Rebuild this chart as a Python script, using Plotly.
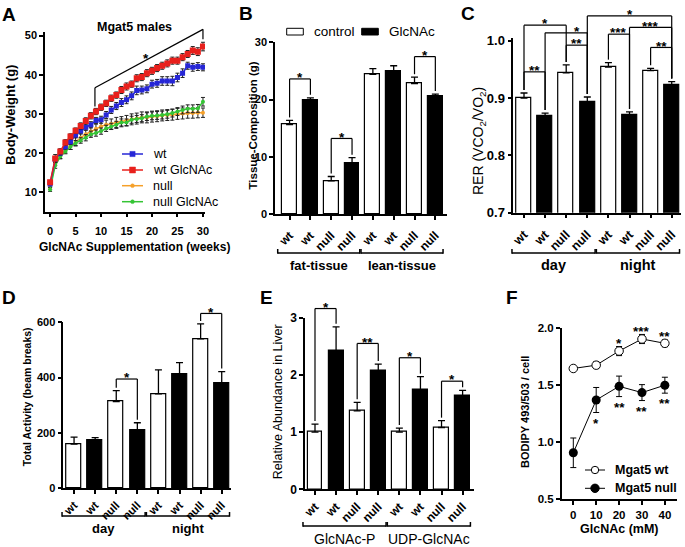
import plotly.graph_objects as go

W, H = 685, 547
FONT = "Liberation Sans, Arial, sans-serif"

# ---------------- data ----------------
weeks = list(range(31))
series_names = ["wt", "wt GlcNAc", "null", "null GlcNAc"]
bw_wt = [12.1, 18.4, 20.0, 21.6, 22.9, 24.6, 25.6, 26.6, 27.2, 28.3, 28.5, 29.7, 31.0, 32.0, 32.9, 33.6,
         34.6, 36.0, 36.1, 36.4, 37.6, 37.8, 38.4, 38.4, 38.4, 39.3, 40.4, 42.3, 41.9, 42.1, 41.9]
bw_wt_err = [0.5, 0.7, 0.6, 0.6, 0.7, 0.7, 0.7, 0.8, 0.8, 0.8, 0.9, 0.9, 0.9, 0.9, 1.0, 1.0,
             1.0, 1.1, 1.0, 1.0, 1.0, 1.0, 1.1, 1.1, 1.2, 1.1, 1.1, 0.9, 1.0, 1.0, 0.9]
bw_wt_glc = [12.5, 18.6, 20.4, 22.7, 24.2, 25.7, 26.9, 28.2, 29.5, 30.6, 31.7, 32.7, 34.0, 34.8, 36.1, 37.0,
             37.6, 39.1, 39.4, 40.4, 41.0, 41.7, 42.3, 42.9, 43.6, 43.6, 44.5, 45.3, 46.2, 45.9, 47.2]
bw_wt_glc_err = [0.5, 1.0, 0.7, 0.7, 0.7, 0.7, 0.8, 0.8, 0.8, 0.8, 0.8, 0.8, 0.8, 0.8, 0.9, 0.9,
                 0.8, 0.9, 0.9, 0.9, 0.9, 0.9, 0.9, 0.9, 0.9, 0.9, 0.9, 0.9, 1.0, 1.0, 1.1]
bw_null = [11.2, 17.6, 19.3, 20.8, 21.8, 22.9, 23.9, 24.8, 25.5, 26.2, 26.8, 27.2, 27.4, 27.8, 28.0, 28.3,
           28.6, 28.8, 29.1, 29.1, 29.3, 29.4, 29.6, 29.7, 29.8, 30.0, 30.1, 30.2, 30.2, 30.3, 30.3]
bw_null_err = [0.5, 0.7, 0.7, 0.8, 0.9, 1.0, 1.0, 1.1, 1.1, 1.2, 1.2, 1.2, 1.3, 1.3, 1.3, 1.3,
               1.4, 1.4, 1.4, 1.4, 1.4, 1.4, 1.4, 1.4, 1.4, 1.4, 1.4, 1.3, 1.3, 1.3, 1.2]
bw_null_glc = [10.7, 16.8, 19.1, 20.4, 21.6, 22.5, 23.2, 23.9, 24.8, 25.1, 25.6, 26.3, 26.8, 27.2, 27.8, 27.8,
               28.5, 28.7, 28.9, 29.3, 29.5, 29.6, 29.7, 29.9, 30.2, 30.6, 31.0, 31.3, 31.3, 31.4, 33.1]
bw_null_glc_err = [0.5, 0.7, 0.6, 0.6, 0.7, 0.7, 0.7, 0.8, 0.8, 0.8, 0.8, 0.8, 0.8, 0.9, 0.9, 0.9,
                   0.9, 0.9, 0.9, 1.0, 1.0, 1.0, 1.0, 1.0, 1.0, 1.0, 1.0, 1.0, 1.0, 1.0, 1.1]

geno_ticks = ["wt", "wt", "null", "null", "wt", "wt", "null", "null"]
treatment = ["control", "GlcNAc"] * 4

tissue_groups = ["fat-tissue", "lean-tissue"]
tissue_vals = [15.6, 19.8, 5.8, 8.9, 24.4, 24.9, 22.8, 20.5]
tissue_err = [0.75, 0.5, 0.75, 0.95, 1.0, 1.0, 1.1, 0.45]

time_groups = ["day", "night"]
rer_vals = [0.900, 0.869, 0.944, 0.893, 0.954, 0.870, 0.948, 0.923]
rer_err = [0.009, 0.005, 0.014, 0.009, 0.008, 0.006, 0.004, 0.006]

act_vals = [160, 173, 313, 211, 341, 413, 540, 380]
act_err = [25, 10, 40, 26, 87, 41, 54, 42]

liver_groups = ["GlcNAc-P", "UDP-GlcNAc"]
liver_vals = [1.0, 2.42, 1.37, 2.07, 1.0, 1.74, 1.08, 1.63]
liver_err = [0.14, 0.42, 0.15, 0.12, 0.07, 0.23, 0.12, 0.10]

glc_mM = [0, 10, 20, 30, 40]
bod_wt = [1.647, 1.676, 1.80, 1.906, 1.868]
bod_wt_err = [0.01, 0.03, 0.04, 0.04, 0.03]
bod_null = [0.906, 1.37, 1.49, 1.435, 1.50]
bod_null_err = [0.13, 0.11, 0.09, 0.07, 0.07]
sig_wt = ["", "", "*", "***", "**"]
sig_null = ["", "*", "**", "**", "**"]

# significance brackets: (bar i, bar j, bracket height in data units, label[, label x])
sig_tissue = [(0, 1, 23.6, "*"), (2, 3, 13.2, "*"), (6, 7, 27.5, "*")]
sig_rer = [(0, 2, 1.0274, "*"), (0, 1, 0.9459, "**"), (1, 3, 1.014, "*", 2.5), (2, 3, 0.9925, "**"),
           (3, 7, 1.0436, "*"), (5, 7, 1.0234, "***"), (4, 5, 1.0117, "***"), (6, 7, 0.9885, "**")]
sig_act = [(2, 3, 395, "*"), (6, 7, 632, "*")]
sig_liver = [(0, 1, 3.16, "*"), (2, 3, 2.55, "**"), (4, 5, 2.30, "*"), (6, 7, 1.89, "*")]

# ---------------- layout geometry (pixels) ----------------
panels = {
    "A": dict(box=(45, 31.7, 205, 211.7), xr=[-1, 30.4], yr=[5, 51], ax=""),
    "B": dict(box=(275, 42.3, 447, 214), xr=[-0.7, 7.56], yr=[0, 30], ax="2"),
    "C": dict(box=(513.3, 38, 681, 212.7), xr=[-0.507, 7.44], yr=[0.7, 1.005], ax="3"),
    "D": dict(box=(63.3, 322.3, 231, 488.3), xr=[-0.51, 7.44], yr=[0, 600], ax="4"),
    "E": dict(box=(305, 317.7, 474, 489.3), xr=[-0.474, 7.54], yr=[0, 3], ax="5"),
    "F": dict(box=(561.7, 328.3, 677, 499), xr=[-5.07, 45.3], yr=[0.5, 2.0], ax="6"),
}

shapes, annots = [], []


def pp(xp, yp):
    return xp / W, 1 - yp / H


def d2p(k, x, y):
    l, t, r, b = panels[k]["box"]
    x0, x1 = panels[k]["xr"]
    y0, y1 = panels[k]["yr"]
    return l + (x - x0) / (x1 - x0) * (r - l), b - (y - y0) / (y1 - y0) * (b - t)


def line_px(x0, y0, x1, y1, w=1.2, color="black"):
    a, b = pp(x0, y0)
    c, d = pp(x1, y1)
    shapes.append(dict(type="line", xref="paper", yref="paper", x0=a, y0=b, x1=c, y1=d,
                       line=dict(color=color, width=w)))


def rect_px(x0, y0, x1, y1, fill, lc="black", lw=1.0):
    a, b = pp(x0, y0)
    c, d = pp(x1, y1)
    shapes.append(dict(type="rect", xref="paper", yref="paper", x0=a, y0=b, x1=c, y1=d,
                       fillcolor=fill, line=dict(color=lc, width=lw)))


def circ_px(cx, cy, r, fill, lc, lw=1.0):
    a, b = pp(cx - r, cy - r)
    c, d = pp(cx + r, cy + r)
    shapes.append(dict(type="circle", xref="paper", yref="paper", x0=a, y0=b, x1=c, y1=d,
                       fillcolor=fill, line=dict(color=lc, width=lw)))


def text_px(x, y, txt, size, bold=False, xanchor="center", yanchor="middle", angle=0):
    a, b = pp(x, y)
    annots.append(dict(x=a, y=b, xref="paper", yref="paper", text=txt, showarrow=False,
                       xanchor=xanchor, yanchor=yanchor, textangle=angle,
                       font=dict(family=FONT, size=size, color="black",
                                 weight="bold" if bold else "normal")))


def star_px(x, ycenter, txt, size=13.5):
    # asterisk glyph sits ~0.28em above the text-box middle
    text_px(x, ycenter + 0.28 * size, txt, size, bold=True)


def sig_brackets(k, vals, errs, specs):
    for s in specs:
        i, j, yv, txt = s[:4]
        tx = s[4] if len(s) > 4 else (i + j) / 2
        xi, yl = d2p(k, i, yv)
        xj, _ = d2p(k, j, yv)
        _, yi = d2p(k, i, vals[i] + errs[i])
        _, yj = d2p(k, j, vals[j] + errs[j])
        line_px(xi, yl, xj, yl)
        line_px(xi, yl, xi, yi - 3)
        line_px(xj, yl, xj, yj - 3)
        star_px(d2p(k, tx, yv)[0], yl - 5, txt)


def group_brackets(k, groups, ypx, ty, size, bold):
    for g, label in enumerate(groups):
        i0, i1 = 4 * g, 4 * g + 3
        x0, _ = d2p(k, i0 - 0.57, 0)
        x1, _ = d2p(k, i1 + 0.37, 0)
        line_px(x0, ypx, x1, ypx, w=1.5)
        line_px(x0, ypx + 0.7, x0, ypx - 4, w=1.5)
        line_px(x1, ypx + 0.7, x1, ypx - 4, w=1.5)
        text_px((x0 + x1) / 2, ty, label, size, bold=bold)


fig = go.Figure()

# ---------------- A: body weight ----------------
a_series = [
    (series_names[2], bw_null, bw_null_err, "#f5a02a", "circle", 4),
    (series_names[3], bw_null_glc, bw_null_glc_err, "#35c435", "circle", 4),
    (series_names[0], bw_wt, bw_wt_err, "#2626d6", "square", 5),
    (series_names[1], bw_wt_glc, bw_wt_glc_err, "#e8201c", "square", 6),
]
for name, vals, errs, col, sym, sz in a_series:
    fig.add_trace(go.Scatter(
        x=weeks, y=vals, name=name, mode="lines+markers",
        line=dict(color=col, width=1.5), marker=dict(symbol=sym, size=sz, color=col),
        error_y=dict(type="data", array=errs, color="#222", thickness=1, width=2),
        xaxis="x", yaxis="y"))

# ---------------- bar panels ----------------
bar_colors = ["white" if t == "control" else "black" for t in treatment]
for k, vals, errs in [("B", tissue_vals, tissue_err), ("C", rer_vals, rer_err),
                      ("D", act_vals, act_err), ("E", liver_vals, liver_err)]:
    ax = panels[k]["ax"]
    fig.add_trace(go.Bar(
        x=list(range(len(vals))), y=vals, width=0.71,
        marker=dict(color=bar_colors, line=dict(color="black", width=1.2)),
        error_y=dict(type="data", array=errs, arrayminus=[0] * len(vals), symmetric=False,
                     color="black", thickness=1.3, width=3.5),
        xaxis="x" + ax, yaxis="y" + ax))

# ---------------- F: BODIPY ----------------
fig.add_trace(go.Scatter(
    x=glc_mM, y=bod_wt, name="Mgat5 wt", mode="lines+markers",
    line=dict(color="black", width=1),
    marker=dict(symbol="circle", size=8.5, color="white", line=dict(color="black", width=1)),
    error_y=dict(type="data", array=bod_wt_err, color="black", thickness=1, width=3),
    xaxis="x6", yaxis="y6"))
fig.add_trace(go.Scatter(
    x=glc_mM, y=bod_null, name="Mgat5 null", mode="lines+markers",
    line=dict(color="black", width=1),
    marker=dict(symbol="circle", size=9, color="black"),
    error_y=dict(type="data", array=bod_null_err, color="black", thickness=1, width=3),
    xaxis="x6", yaxis="y6"))

# ---------------- axes ----------------
def base_axis(size):
    return dict(showline=True, linecolor="black", linewidth=1.5, ticks="outside", ticklen=4,
                tickwidth=1.5, tickcolor="black", showgrid=False, zeroline=False,
                tickfont=dict(family=FONT, size=size, color="black", weight="bold"),
                fixedrange=True, automargin=False)

layout_axes = {}
tick_sizes = {"A": 11, "B": 11, "C": 13, "D": 11, "E": 12, "F": 11.5}
xcat_sizes = {"B": 12, "C": 12.5, "D": 11.5, "E": 12}
x_standoff = {"A": 4, "B": 4, "C": 4, "D": 0, "E": 0, "F": 0}
for k, p in panels.items():
    l, t, r, b = p["box"]
    ax = p["ax"]
    xa = base_axis(tick_sizes[k])
    ya = base_axis(tick_sizes[k])
    xa.update(domain=[l / W, r / W], range=p["xr"], anchor="y" + ax)
    if x_standoff[k]:
        xa.update(ticklabelstandoff=x_standoff[k])
    ya.update(domain=[1 - b / H, 1 - t / H], range=p["yr"], anchor="x" + ax)
    if k in "BCDE":
        xa.update(tickvals=list(range(8)), ticktext=geno_ticks, tickangle=-45,
                  tickfont=dict(family=FONT, size=xcat_sizes[k], color="black", weight="bold"))
    layout_axes["xaxis" + ax] = xa
    layout_axes["yaxis" + ax] = ya

layout_axes["xaxis"].update(tickvals=[0, 5, 10, 15, 20, 25, 30])
layout_axes["yaxis"].update(tickvals=[10, 20, 30, 40, 50])
layout_axes["yaxis2"].update(tickvals=[0, 10, 20, 30])
layout_axes["yaxis3"].update(tickvals=[0.7, 0.8, 0.9, 1.0], tickformat=".1f")
layout_axes["yaxis4"].update(tickvals=[0, 200, 400, 600])
layout_axes["yaxis5"].update(tickvals=[0, 1, 2, 3])
layout_axes["xaxis6"].update(tickvals=glc_mM)
layout_axes["yaxis6"].update(tickvals=[0.5, 1.0, 1.5, 2.0], tickformat=".1f")

# ---------------- annotations / decorations ----------------
# panel letters
for lab, (x, y) in {"A": (9.2, 15), "B": (246, 13.3), "C": (468, 13.3), "D": (9, 298),
                    "E": (266.7, 297), "F": (512, 297)}.items():
    text_px(x, y, lab, 19, bold=True)

# A: title, axis titles, bracket, legend
text_px(134, 27, "Mgat5 males", 12.5, bold=True)
text_px(10.7, 115, "Body-Weight (g)", 13, bold=True, angle=-90)
text_px(134, 247, "GlcNAc Supplementation (weeks)", 12, bold=True)
bx0, by0 = d2p("A", 8.8, 31.9)
bx1, by1 = d2p("A", 8.8, 36.7)
bx2, by2 = d2p("A", 30, 51.6)
bx3, by3 = d2p("A", 30, 49.1)
line_px(bx0, by0, bx1, by1)
line_px(bx1, by1, bx2, by2)
line_px(bx2, by2, bx3, by3)
sx, sy = d2p("A", 18.8, 45.1)
star_px(sx, sy, "*")
leg_rows = [154, 170, 185.7, 201.7]
leg_style = {
    "wt": ("#2626d6", "sq", 2.6), "wt GlcNAc": ("#e8201c", "sq", 3.0),
    "null": ("#f5a02a", "ci", 1.9), "null GlcNAc": ("#35c435", "ci", 1.9)}
for yrow, name in zip(leg_rows, series_names):
    col, kind, hs = leg_style[name]
    line_px(122, yrow, 143, yrow, w=1.5, color=col)
    if kind == "sq":
        rect_px(132.5 - hs, yrow - hs, 132.5 + hs, yrow + hs, col, lc=col, lw=0.5)
    else:
        circ_px(132.5, yrow, hs, col, col, lw=0.5)
    text_px(151, yrow, name, 12.5, xanchor="left")

# B
text_px(252.5, 126, "Tissue-Composition (g)", 11.5, bold=True, angle=-90)
rect_px(286.7, 28.3, 303.3, 35, "white", lw=1)
text_px(312, 31.7, "control", 13.5, xanchor="left")
rect_px(361.7, 28.3, 378.3, 35, "black", lw=1)
text_px(387, 31.7, "GlcNAc", 13.5, xanchor="left")
sig_brackets("B", tissue_vals, tissue_err, sig_tissue)
group_brackets("B", tissue_groups, 253, 265, 13, True)

# C
text_px(479, 141, "RER (VCO<sub>2</sub>/VO<sub>2</sub>)", 14, angle=-90)
sig_brackets("C", rer_vals, rer_err, sig_rer)
group_brackets("C", time_groups, 253, 264.5, 14.5, True)

# D
text_px(27.3, 397, "Total Activity (beam breaks)", 10.5, bold=True, angle=-90)
sig_brackets("D", act_vals, act_err, sig_act)
group_brackets("D", time_groups, 516, 528.5, 13, True)

# E
text_px(278.3, 402, "Relative Abundance in Liver", 12.5, angle=-90)
sig_brackets("E", liver_vals, liver_err, sig_liver)
group_brackets("E", liver_groups, 526, 539, 14, False)

# F
text_px(525, 412, "BODIPY 493/503 / cell", 11, bold=True, angle=-90)
text_px(619, 529, "GlcNAc (mM)", 12.5, bold=True)
for x, v, e, s in zip(glc_mM, bod_wt, bod_wt_err, sig_wt):
    if s:
        px_, py_ = d2p("F", x, v + e)
        star_px(px_, py_ - 7, s)
for x, v, e, s in zip(glc_mM, bod_null, bod_null_err, sig_null):
    if s:
        px_, py_ = d2p("F", x, v - e)
        star_px(px_, py_ + 7, s)
line_px(585, 470, 605, 470, w=1)
circ_px(595, 470, 3.7, "white", "black", lw=1)
text_px(613, 470, "Mgat5 wt", 12.5, bold=True, xanchor="left")
line_px(585, 488.3, 605, 488.3, w=1)
circ_px(595, 488.3, 4.2, "black", "black", lw=1)
text_px(613, 488.3, "Mgat5 null", 12.5, bold=True, xanchor="left")

fig.update_layout(
    width=W, height=H, autosize=False, margin=dict(l=0, r=0, t=0, b=0),
    paper_bgcolor="white", plot_bgcolor="white", showlegend=False, bargap=0,
    font=dict(family=FONT, color="black"),
    shapes=shapes, annotations=annots, **layout_axes)

fig.write_html("out.html", config={"displayModeBar": False},
               post_script="document.body.style.margin='0';document.body.style.padding='0';")
